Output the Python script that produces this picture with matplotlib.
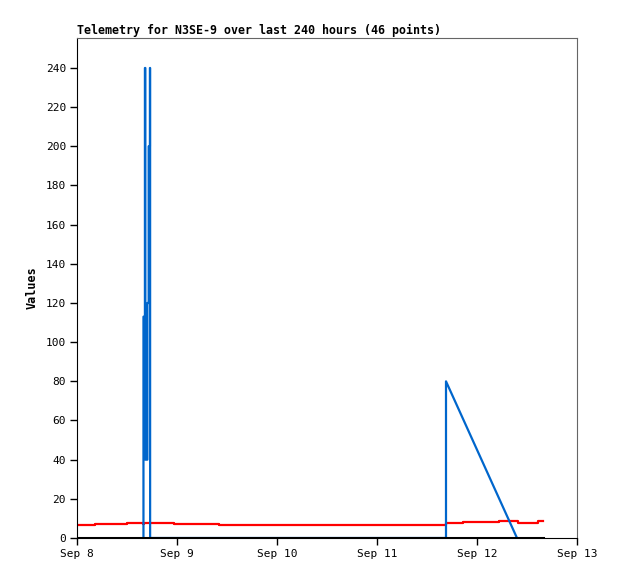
import datetime as dt
import matplotlib
matplotlib.use("Agg")
import matplotlib.pyplot as plt
import matplotlib.dates as mdates

# hours since Sep 8 00:00
start = dt.datetime(2023, 9, 8)

red_hours = [0.0, 4.3, 11.9, 15.8, 16.1, 23.3, 34.2, 88.6, 92.6, 101.3, 105.8, 110.6, 111.8]
red_vals = [6.8, 7.3, 7.8, 7.0, 7.8, 7.3, 6.8, 7.6, 8.3, 8.8, 7.8, 8.8, 8.8]

blue_hours = [15.95, 15.95, 16.3, 16.3, 16.4, 16.4, 16.9, 16.9, 17.2, 17.2, 17.5, 17.5, 17.55,
              17.55, 88.56, 88.56, 105.6]
blue_vals = [0, 113, 113, 240, 240, 40, 40, 120, 120, 200, 200, 240, 240,
             0, 0, 80, 0]

black_hours = [0.0, 111.8]
black_vals = [0, 0]

def to_dates(hours):
    return [start + dt.timedelta(hours=h) for h in hours]

mono = "DejaVu Sans Mono"

fig = plt.figure(figsize=(6.18, 5.79), dpi=100)
ax = fig.add_axes([77 / 618, 41 / 579, 500 / 618, 500 / 579])

ax.plot(to_dates(red_hours), red_vals, color="#ff0000", lw=1.6, drawstyle="steps-post")
ax.plot(to_dates(blue_hours), blue_vals, color="#0066cc", lw=1.6)
ax.plot(to_dates(black_hours), black_vals, color="black", lw=2.2)

ax.set_xlim(start, start + dt.timedelta(days=5))
ax.set_ylim(0, 255.3)
ax.set_yticks(range(0, 241, 20))
ax.xaxis.set_major_locator(mdates.DayLocator())
ax.xaxis.set_major_formatter(mdates.DateFormatter("%b %-d"))

for lab in ax.get_xticklabels() + ax.get_yticklabels():
    lab.set_fontfamily(mono)
    lab.set_fontsize(8)
ax.tick_params(direction="out", length=5, width=1, pad=3)

for s in ["top", "right"]:
    ax.spines[s].set_color("#666666")
ax.spines["left"].set_color("black")
ax.spines["bottom"].set_color("black")

ax.set_ylabel("Values", fontfamily=mono, fontweight="bold", fontsize=8.5, labelpad=5)
ax.set_title("Telemetry for N3SE-9 over last 240 hours (46 points)", loc="left",
             fontfamily=mono, fontweight="bold", fontsize=8.4, pad=3)

fig.savefig("out.png", dpi=100)
